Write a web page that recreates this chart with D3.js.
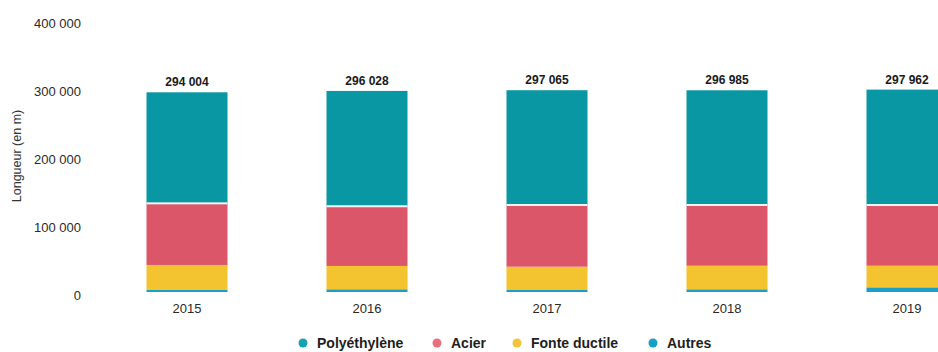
<!DOCTYPE html>
<html><head><meta charset="utf-8">
<script src="https://cdn.jsdelivr.net/npm/d3@7"></script>
<style>body{margin:0;background:#fff;overflow:hidden}svg{display:block}</style>
</head><body>
<svg id="c" width="938" height="352"></svg>
<script>
const years = ["2015","2016","2017","2018","2019"];
const polyethylene = [163500, 169800, 169000, 168900, 169900];
const acier = [90700, 87900, 90800, 89400, 89400];
const fonteDuctile = [36800, 34300, 34300, 34700, 31800];
const autres = [3004, 4028, 2965, 3985, 6862];
const totals = [294004, 296028, 297065, 296985, 297962];
const totalLabels = ["294 004","296 028","297 065","296 985","297 962"];
const yTicks = [0, 100000, 200000, 300000, 400000];
const yTickLabels = ["0","100 000","200 000","300 000","400 000"];
const seriesNames = ["Polyéthylène","Acier","Fonte ductile","Autres"];
const seriesColors = ["#0a97a4","#dc566a","#f3c42f","#1a9fc8"];
const legendColors = ["#16a4b0","#e8707f","#f2c43a","#12a0c8"];

const svg = d3.select("#c");
const x = d3.scaleBand().domain(years).range([97, 997]).paddingInner(0.55).paddingOuter(0.275);
const y = d3.scaleLinear().domain([0, 400000]).range([292, 20.3]);

const rows = years.map((yr, i) => ({year: yr, Autres: autres[i], "Fonte ductile": fonteDuctile[i], Acier: acier[i], "Polyéthylène": polyethylene[i]}));
const stack = d3.stack().keys(["Autres","Fonte ductile","Acier","Polyéthylène"]);
const stacked = stack(rows);
const colorOf = k => seriesColors[seriesNames.indexOf(k)];

const g = svg.append("g");
stacked.forEach(layer => {
  g.selectAll(null).data(layer).enter().append("rect")
    .attr("x", d => x(d.data.year))
    .attr("width", x.bandwidth())
    .attr("y", d => y(d[1]))
    .attr("height", d => y(d[0]) - y(d[1]))
    .attr("fill", colorOf(layer.key));
});
const acierLayer = stacked[2];
g.selectAll(null).data(acierLayer).enter().append("rect")
  .attr("x", d => x(d.data.year))
  .attr("width", x.bandwidth())
  .attr("y", d => y(d[1]) - 1)
  .attr("height", 2)
  .attr("fill", "#f4f4f4");

g.selectAll(null).data(years).enter().append("text")
  .attr("x", d => x(d) + x.bandwidth()/2)
  .attr("y", (d, i) => y(totals[i]) - 6)
  .attr("text-anchor", "middle")
  .attr("font-family", "Liberation Sans, Arial, sans-serif")
  .attr("font-weight", "bold")
  .attr("font-size", 12)
  .attr("fill", "#1a1a1a")
  .text((d, i) => totalLabels[i]);

const yAxis = d3.axisLeft(y).tickValues(yTicks).tickFormat((d, i) => yTickLabels[i]).tickSize(0).tickPadding(0);
const ya = svg.append("g").attr("transform", "translate(81,3)").call(yAxis);
ya.select(".domain").remove();
ya.selectAll("text").attr("font-family", "Liberation Sans, Arial, sans-serif").attr("font-size", 13).attr("fill", "#2a2a2a");

const xAxis = d3.axisBottom(x).tickSize(0).tickPadding(0);
const xa = svg.append("g").attr("transform", "translate(0,304)").call(xAxis);
xa.select(".domain").remove();
xa.selectAll("text").attr("font-family", "Liberation Sans, Arial, sans-serif").attr("font-size", 13).attr("fill", "#2a2a2a");

svg.append("text")
  .attr("transform", "translate(21,156) rotate(-90)")
  .attr("text-anchor", "middle")
  .attr("font-family", "Liberation Sans, Arial, sans-serif")
  .attr("font-size", 12.5)
  .attr("fill", "#333")
  .text("Longueur (en m)");

const legendX = [303, 437, 517, 653];
const lg = svg.append("g");
seriesNames.forEach((n, i) => {
  lg.append("circle").attr("cx", legendX[i]).attr("cy", 343).attr("r", 4.5).attr("fill", legendColors[i]);
  lg.append("text").attr("x", legendX[i] + 14).attr("y", 348)
    .attr("font-family", "Liberation Sans, Arial, sans-serif")
    .attr("font-weight", "bold").attr("font-size", 14).attr("fill", "#1e1e1e")
    .text(n);
});
</script>
</body></html>
